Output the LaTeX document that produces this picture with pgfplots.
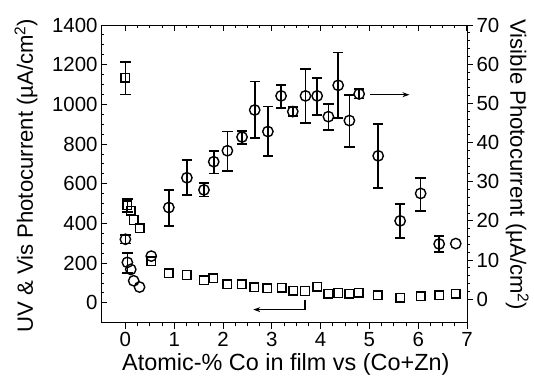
\documentclass[border=0pt]{standalone}
\usepackage{fontspec}
\setmainfont{Liberation Sans}
\usepackage{pgfplots}
\pgfplotsset{compat=1.18}
\usetikzlibrary{arrows.meta}

\pgfplotstableread{
x y ep em
0.00 1134 78 84
0.04 492 30 35
}\sqerr
\pgfplotstableread{
x y
0.11 464
0.17 417
0.29 375
0.53 210
0.89 148
1.26 140
1.61 113
1.80 123
2.09 93
2.38 93
2.64 78
2.91 73
3.20 76
3.44 62
3.68 60
3.93 81
4.16 47
4.36 50
4.59 47
4.78 52
5.17 39
5.63 25
6.05 34
6.43 39
6.77 47
}\sqnoerr
\pgfplotstableread{
x y ep em
0.00 15.3 1.1 1.1
0.04 9.4 2.4 2.7
0.89 23.4 4.5 4.7
1.26 31.0 4.5 4.4
1.61 27.9 1.7 1.7
1.81 35.1 2.8 3.0
2.09 37.9 4.9 5.2
2.39 41.4 1.6 1.8
2.65 48.3 7.3 7.2
2.92 42.8 6.4 6.2
3.19 51.9 2.8 3.1
3.43 47.9 1.1 1.1
3.69 51.9 6.8 7.0
3.93 51.9 4.5 4.8
4.16 46.6 3.2 3.4
4.36 54.6 8.4 8.4
4.59 45.6 6.6 6.8
4.79 52.4 1.2 1.2
5.18 36.6 8.2 8.3
5.63 20.0 4.3 4.3
6.05 27.0 4.0 4.4
6.43 14.1 2.0 2.0
}\cirerr
\pgfplotstableread{
x y
0.11 7.6
0.17 4.7
0.29 3.1
0.53 11.0
6.77 14.2
}\cirnoerr

\pgfplotsset{
  common/.style={
    scale only axis, width=366bp, height=297.7bp,
    xmin=-0.5, xmax=7,
    axis line style={line width=1pt},
    every tick/.style={line width=1pt, black},
    major tick length=6bp, minor tick length=3.5bp,
    tick label style={font=\fontsize{20.5}{24}\selectfont},
    label style={font=\fontsize{22.2}{27}\selectfont},
    /pgf/number format/assume math mode=true,
    /pgf/number format/1000 sep={},
  },
  errst/.style={error bars/.cd, y dir=both, y explicit,
    error bar style={line width=1.7pt, black},
    error mark options={rotate=90, mark size=5.2bp, line width=1.7pt, black}},
}

\begin{document}
\begin{tikzpicture}
% left axis, top x ticks inside
\begin{axis}[common,
  ymin=-100, ymax=1400,
  axis y line*=left, axis x line*=top,
  tick align=inside,
  xtick={0,...,7}, xticklabels={},
  ytick={0,200,...,1400},
  minor x tick num=3, minor y tick num=3,
  ylabel={UV \& Vis Photocurrent (µA/cm\textsuperscript{2})},
  y label style={at={(axis description cs:-0.205,0.494)}, anchor=center},
  clip=false]
\addplot[only marks, black, mark=square, mark size=4.3bp, line width=1.4pt,
  mark options={fill=white}, errst]
  table[x=x, y=y, y error plus=ep, y error minus=em] {\sqerr};
\addplot[only marks, black, mark=square, mark size=4.3bp, line width=1.4pt,
  mark options={fill=white}]
  table[x=x, y=y] {\sqnoerr};
\draw[line width=1.5pt, -{Stealth[length=7bp,width=5bp]}]
  (axis cs:3.68,14) -- (axis cs:3.68,-34) -- (axis cs:2.62,-34);
\end{axis}
% bottom x axis, ticks outside
\begin{axis}[common,
  ymin=-100, ymax=1400,
  axis x line*=bottom, axis y line=none,
  tick align=outside,
  xtick={0,...,7},
  minor x tick num=3,
  xlabel={Atomic-\% Co in film vs (Co+Zn)},
  x label style={at={(axis description cs:0.505,-0.141)}, anchor=center,
    font=\fontsize{23.5}{28}\selectfont}]
\end{axis}
% right axis
\begin{axis}[common,
  ymin=-6, ymax=70,
  axis y line*=right, axis x line=none,
  tick align=outside,
  ytick={0,10,...,70},
  minor y tick num=4,
  ylabel={Visible Photocurrent (µA/cm\textsuperscript{2})},
  y label style={at={(axis description cs:1.137,0.53)}, anchor=center, rotate=180},
  clip=false]
\addplot[only marks, black, mark=o, mark size=5.2bp, line width=1.4pt,
  mark options={fill=white}, errst]
  table[x=x, y=y, y error plus=ep, y error minus=em] {\cirerr};
\addplot[only marks, black, mark=o, mark size=5.2bp, line width=1.4pt,
  mark options={fill=white}]
  table[x=x, y=y] {\cirnoerr};
\draw[line width=1.5pt, -{Stealth[length=7bp,width=5bp]}]
  (axis cs:5.02,52.2) -- (axis cs:5.82,52.2);
\end{axis}
\pgfresetboundingbox
\path (-101bp,-56.3bp) rectangle (433bp,322.7bp);
\end{tikzpicture}
\end{document}
